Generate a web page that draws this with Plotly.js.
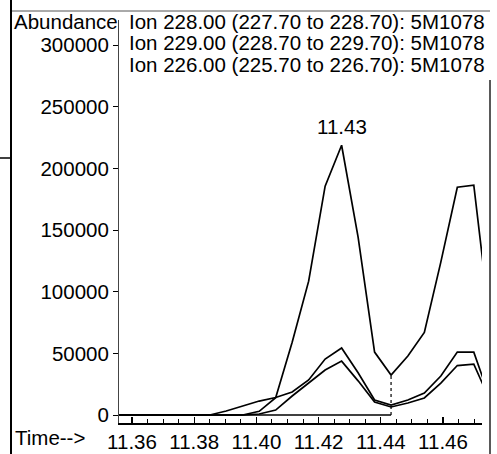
<!DOCTYPE html>
<html>
<head>
<meta charset="utf-8">
<script src="https://cdn.plot.ly/plotly-3.0.1.min.js"></script>
<style>html,body{margin:0;padding:0;background:#fff;}#chart{width:497px;height:454px;}</style>
</head>
<body>
<div id="chart"></div>
<script>
// Scan times (min)
var times = [11.3532, 11.3585, 11.3638, 11.3691, 11.3744, 11.3797, 11.3850, 11.3903, 11.3956, 11.4009,
             11.4062, 11.4115, 11.4168, 11.4221, 11.4274, 11.4327, 11.4380, 11.4433, 11.4487, 11.4540,
             11.4593, 11.4646, 11.4699, 11.4752];
// Ion 228.00
var ion228 = [0, 0, 0, 0, 0, 0, 0, 0, 0, 3000,
              14000, 59000, 108500, 185500, 218700, 144200, 51000, 32400, 47800, 67000,
              124000, 184700, 186300, 73000];
// Ion 229.00
var ion229 = [0, 0, 0, 0, 0, 0, 0, 3200, 7300, 11300,
              14200, 18600, 28400, 45400, 54300, 34200, 12150, 8100, 12150, 17800,
              31600, 51000, 51000, 13000];
// Ion 226.00
var ion226 = [0, 0, 0, 0, 0, 0, 0, 0, 0, 800,
              4000, 15400, 25900, 36500, 43700, 27700, 10500, 6500, 9700, 13800,
              25900, 40100, 41300, 11300];
var ionNames = ['Ion 228.00 (227.70 to 228.70): 5M1078',
                'Ion 229.00 (228.70 to 229.70): 5M1078',
                'Ion 226.00 (225.70 to 226.70): 5M1078'];
// integration baseline and drop line
var baseTimes = [11.3532, 11.4433];
var baseVals = [0, 0];
var dropTimes = [11.4433, 11.4433];
var dropVals = [0, 32400];
var peakTime = 11.4274, peakVal = 218700;
var yTicks = [0, 50000, 100000, 150000, 200000, 250000, 300000];
var xTicks = [11.36, 11.38, 11.40, 11.42, 11.44, 11.46];
var xTickText = ['11.36', '11.38', '11.40', '11.42', '11.44', '11.46'];

var FONT = 'Liberation Sans, Arial, sans-serif';
var FS = 20.5;
var series = [ion228, ion229, ion226];
var traces = series.map(function (s, i) {
  return {x: times, y: s, type: 'scatter', mode: 'lines', name: ionNames[i],
          line: {color: '#000', width: 1.7}, hoverinfo: 'skip'};
});
traces.push({x: baseTimes, y: baseVals, type: 'scatter', mode: 'lines',
             line: {color: '#000', width: 1.5}, hoverinfo: 'skip'});
traces.push({x: dropTimes, y: dropVals, type: 'scatter', mode: 'lines',
             line: {color: '#000', width: 1.2, dash: 'dot'}, hoverinfo: 'skip'});

var L = 119, R = 482, T = 20, B = 423, W = 497, H = 454;
function px(p) { return (p - L) / (R - L); }
function py(p) { return (B - p) / (B - T); }

var annotations = [];
ionNames.forEach(function (n, i) {
  annotations.push({xref: 'paper', yref: 'paper', x: px(127), y: py([21, 43, 64][i]),
    xanchor: 'left', yanchor: 'middle', text: n, showarrow: false,
    font: {family: FONT, size: FS, color: '#000'}});
});
annotations.push({xref: 'paper', yref: 'paper', x: px(12), y: py(21), xanchor: 'left', yanchor: 'middle',
  text: 'Abundance', showarrow: false, font: {family: FONT, size: FS, color: '#000'}});
annotations.push({xref: 'paper', yref: 'paper', x: px(13), y: py(437), xanchor: 'left', yanchor: 'middle',
  text: 'Time-->', showarrow: false, font: {family: FONT, size: FS, color: '#000'}});
annotations.push({x: peakTime, y: peakVal, xref: 'x', yref: 'y', text: peakTime.toFixed(2),
  showarrow: false, yanchor: 'bottom', yshift: 5, font: {family: FONT, size: FS, color: '#000'}});

var shapes = [
  {type: 'line', xref: 'paper', yref: 'paper', x0: px(11), x1: px(11), y0: py(0), y1: py(454), line: {color: '#000', width: 2}},
  {type: 'line', xref: 'paper', yref: 'paper', x0: px(490), x1: px(490), y0: py(80), y1: py(454), line: {color: '#222', width: 1.5}},
  {type: 'line', xref: 'paper', yref: 'paper', x0: px(12), x1: px(490), y0: py(11), y1: py(11), line: {color: '#555', width: 1}},
  {type: 'line', xref: 'paper', yref: 'paper', x0: px(0), x1: px(10), y0: py(158), y1: py(158), line: {color: '#000', width: 1.5}}
];

var pxPerUnit = 370 / 300000;
var layout = {
  width: W, height: H,
  margin: {l: L, r: W - R, t: T, b: H - B, pad: 0},
  paper_bgcolor: '#fff', plot_bgcolor: '#fff',
  showlegend: false,
  font: {family: FONT, color: '#000', size: FS},
  xaxis: {range: [11.36 - 13 / 3110, 11.36 + 350 / 3110], showgrid: false, zeroline: false,
          showline: true, linecolor: '#000', linewidth: 1.5,
          tickmode: 'array', tickvals: xTicks, ticktext: xTickText,
          ticks: 'inside', ticklen: 6, tickwidth: 1.2, tickcolor: '#000',
          minor: {dtick: 0.005, tick0: 11.36, ticks: 'inside', ticklen: 4, tickwidth: 1, tickcolor: '#000'},
          tickfont: {family: FONT, size: FS, color: '#000'}, fixedrange: true},
  yaxis: {range: [-8 / pxPerUnit, (415 - 20) / pxPerUnit], showgrid: false, zeroline: false,
          showline: true, linecolor: '#444', linewidth: 1,
          tickmode: 'array', tickvals: yTicks, ticktext: yTicks.map(String),
          ticks: 'outside', ticklen: 5, tickwidth: 1, tickcolor: '#000',
          tickfont: {family: FONT, size: FS, color: '#000'}, fixedrange: true},
  annotations: annotations,
  shapes: shapes
};
Plotly.newPlot('chart', traces, layout, {staticPlot: true, displayModeBar: false});
</script>
</body>
</html>
